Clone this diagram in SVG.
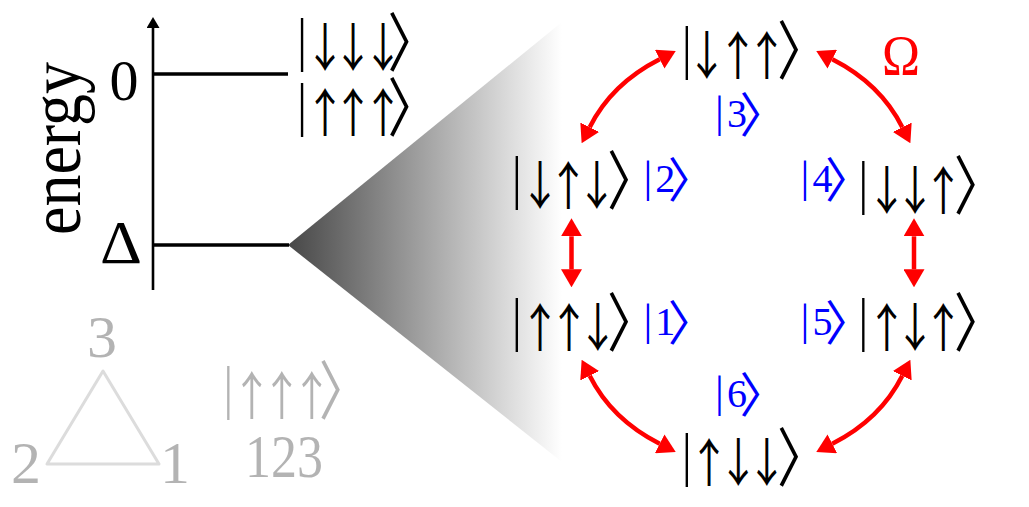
<svg xmlns="http://www.w3.org/2000/svg" width="1029" height="507" viewBox="0 0 1029 507">
<style>
.serif{font-family:"Liberation Serif","Times New Roman",serif}
.ket{text-anchor:middle;fill:#000;opacity:0.999}
.bar{font-family:"Liberation Serif",serif;font-size:60px}
.arr{font-family:"Noto Sans CJK JP","Noto Sans CJK SC",sans-serif;font-size:52px}
.rb{font-family:"Noto Sans CJK JP","Noto Sans CJK SC",sans-serif;font-size:64px}
.lbl{text-anchor:middle;fill:#0000ff;opacity:0.999}
.lbar{font-family:"Liberation Serif",serif;font-size:44px}
.ldig{font-family:"Liberation Serif",serif;font-size:40px}
.lrb{font-family:"Noto Sans CJK JP","Noto Sans CJK SC",sans-serif;font-size:48px}
.conn{fill:none;stroke:#ff0000;stroke-width:4.5;marker-start:url(#ah);marker-end:url(#ah)}
.lvl{stroke:#000;stroke-width:3.3;fill:none}
</style>
<defs>
<linearGradient id="wedge" gradientUnits="userSpaceOnUse" x1="288" y1="0" x2="562" y2="0">
<stop offset="0" stop-color="#474747"/>
<stop offset="1" stop-color="#ffffff"/>
</linearGradient>
<marker id="ah" viewBox="0 0 18 21" refX="0" refY="10.5" markerWidth="18" markerHeight="21" markerUnits="userSpaceOnUse" orient="auto-start-reverse">
<path d="M0,0 L18,10.5 L0,21 z" fill="#ff0000"/>
</marker>
<marker id="axhead" viewBox="0 0 11 13" refX="0" refY="6.5" markerWidth="11" markerHeight="13" markerUnits="userSpaceOnUse" orient="auto">
<path d="M0,0 L11,6.5 L0,13 z" fill="#000"/>
</marker>
</defs>
<rect width="1029" height="507" fill="#fff"/>

<polygon id="wedge-shape" points="288,245 562,22 562,462" fill="url(#wedge)"/>

<g id="energy-axis">
<line x1="153" y1="290" x2="153" y2="28" stroke="#000" stroke-width="2.6" marker-end="url(#axhead)"/>
<text class="serif" transform="translate(80,235) rotate(-90)" font-size="72" textLength="173" lengthAdjust="spacingAndGlyphs">energy</text>
<text class="serif" x="124" y="100" font-size="58" text-anchor="middle">0</text>
<text class="serif" x="100" y="263" font-size="62" textLength="42" lengthAdjust="spacingAndGlyphs">Δ</text>
</g>
<g id="level-0">
<line class="lvl" x1="154" y1="74" x2="288" y2="74"/>
<text class="ket" transform="translate(302,72) scale(0.8,1)"><tspan class="bar" x="0" y="-13">|</tspan><tspan class="arr" x="28.75 63.75 101.25" y="-5">↓↓↓</tspan><tspan class="rb" x="139" y="-6">〉</tspan></text>
<text class="ket" transform="translate(302,137) scale(0.8,1)"><tspan class="bar" x="0" y="-13">|</tspan><tspan class="arr" x="28.75 63.75 101.25" y="-5">↑↑↑</tspan><tspan class="rb" x="139" y="-6">〉</tspan></text>
</g>
<g id="level-delta">
<line class="lvl" x1="154" y1="245" x2="289" y2="245"/>
</g>

<g id="legend">
<polygon points="103,371 47,464 159,464" fill="none" stroke="#dcdcdc" stroke-width="3" stroke-linejoin="round"/>
<g opacity="0.3">
<text class="serif" x="102" y="357" font-size="60" text-anchor="middle">3</text>
<text class="serif" x="26" y="483" font-size="60" text-anchor="middle">2</text>
<text class="serif" x="175" y="483" font-size="60" text-anchor="middle">1</text>
<text class="ket" transform="translate(228.3,420) scale(0.8,1)"><tspan class="bar" x="0" y="-13">|</tspan><tspan class="arr" x="29.25 66.75 104.25" y="-5">↑↑↑</tspan><tspan class="rb" x="145" y="-6">〉</tspan></text>
<text class="serif" x="245" y="477" font-size="62" textLength="78" lengthAdjust="spacingAndGlyphs">123</text>
</g>
</g>

<g id="connectors">
<path class="conn" d="M659.7,59.2 Q611.5,83.7 589.7,127.2"/>
<path class="conn" d="M832.3,59.2 Q880.5,83.7 902.3,127.2"/>
<path class="conn" d="M589.7,375.8 Q611.5,419.3 659.7,443.8"/>
<path class="conn" d="M902.3,375.8 Q880.5,419.3 832.3,443.8"/>
<path class="conn" d="M571.5,236.3 V269.3"/>
<path class="conn" d="M914,236.3 V269.3"/>
</g>

<g id="state-3">
<text class="ket" transform="translate(686.7,80) scale(0.8,1)"><tspan class="bar" x="0" y="-13">|</tspan><tspan class="arr" x="25 63.75 100" y="-5">↓↑↑</tspan><tspan class="rb" x="145" y="-6">〉</tspan></text>
<text class="lbl" transform="translate(719.5,137)"><tspan class="lbar" x="0" y="-10">|</tspan><tspan class="ldig" x="17.5" y="-10">3</tspan><tspan class="lrb" x="44" y="-5">〉</tspan></text>
</g>
<g id="state-2">
<text class="ket" transform="translate(516.7,210) scale(0.8,1)"><tspan class="bar" x="0" y="-13">|</tspan><tspan class="arr" x="29.1 64.5 100" y="-5">↓↑↓</tspan><tspan class="rb" x="145" y="-6">〉</tspan></text>
<text class="lbl" transform="translate(647.8,202)"><tspan class="lbar" x="0" y="-10">|</tspan><tspan class="ldig" x="17.5" y="-10">2</tspan><tspan class="lrb" x="44" y="-5">〉</tspan></text>
</g>
<g id="state-4">
<text class="ket" transform="translate(863.3,215) scale(0.8,1)"><tspan class="bar" x="0" y="-13">|</tspan><tspan class="arr" x="29.25 64.6 100" y="-5">↓↓↑</tspan><tspan class="rb" x="145" y="-6">〉</tspan></text>
<text class="lbl" transform="translate(805,202)"><tspan class="lbar" x="0" y="-10">|</tspan><tspan class="ldig" x="17.5" y="-10">4</tspan><tspan class="lrb" x="44" y="-5">〉</tspan></text>
</g>
<g id="state-1">
<text class="ket" transform="translate(516.7,352) scale(0.8,1)"><tspan class="bar" x="0" y="-13">|</tspan><tspan class="arr" x="29.1 65.4 101.25" y="-5">↑↑↓</tspan><tspan class="rb" x="145" y="-6">〉</tspan></text>
<text class="lbl" transform="translate(647.8,345)"><tspan class="lbar" x="0" y="-10">|</tspan><tspan class="ldig" x="17.5" y="-10">1</tspan><tspan class="lrb" x="44" y="-5">〉</tspan></text>
</g>
<g id="state-5">
<text class="ket" transform="translate(863.3,352) scale(0.8,1)"><tspan class="bar" x="0" y="-13">|</tspan><tspan class="arr" x="29.25 64.6 100" y="-5">↑↓↑</tspan><tspan class="rb" x="145" y="-6">〉</tspan></text>
<text class="lbl" transform="translate(805,345)"><tspan class="lbar" x="0" y="-10">|</tspan><tspan class="ldig" x="17.5" y="-10">5</tspan><tspan class="lrb" x="44" y="-5">〉</tspan></text>
</g>
<g id="state-6">
<text class="ket" transform="translate(686.7,487) scale(0.8,1)"><tspan class="bar" x="0" y="-13">|</tspan><tspan class="arr" x="27.9 64.5 100" y="-5">↑↓↓</tspan><tspan class="rb" x="145" y="-6">〉</tspan></text>
<text class="lbl" transform="translate(719.5,417)"><tspan class="lbar" x="0" y="-10">|</tspan><tspan class="ldig" x="17.5" y="-10">6</tspan><tspan class="lrb" x="44" y="-5">〉</tspan></text>
</g>
<g id="omega">
<text class="serif" x="882" y="75" font-size="58" fill="#ff0000" textLength="38" lengthAdjust="spacingAndGlyphs">Ω</text>
</g>
</svg>
